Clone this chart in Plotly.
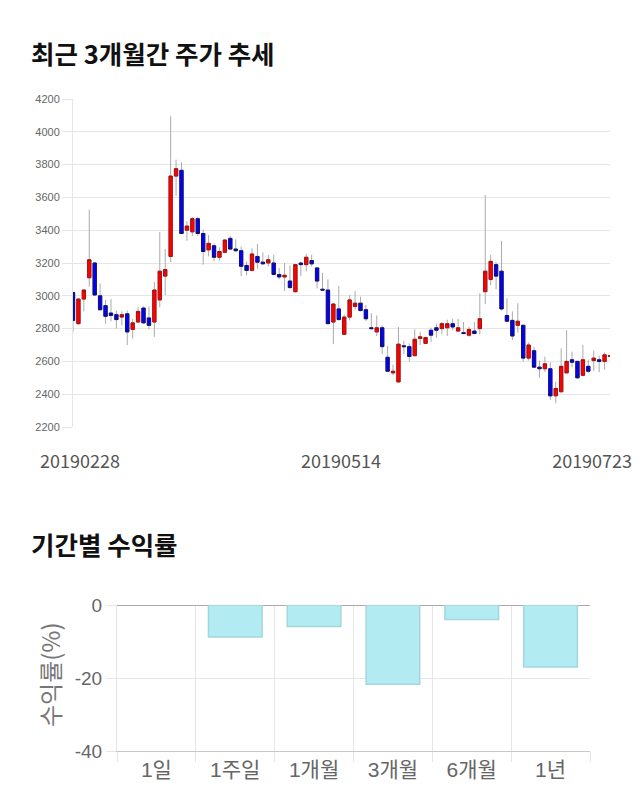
import pandas as pd
import plotly.graph_objects as go

# ---------------- data ----------------
holidays = ["2019-03-01", "2019-05-01", "2019-05-06", "2019-06-06"]
dates = [d.strftime("%Y%m%d") for d in pd.bdate_range("2019-02-28", "2019-07-23")
         if d.strftime("%Y-%m-%d") not in holidays]
tick_dates = ["20190228", "20190514", "20190723"]

open_ = [3020, 2830, 2980, 3110, 3200, 3000, 2940, 2895, 2885, 2870,
         2890, 2795, 2840, 2925, 2865, 2840, 2975, 3120, 3240, 3730,
         3765, 3400, 3390, 3470, 3380, 3280, 3305, 3235, 3265, 3350,
         3285, 3275, 3185, 3155, 3240, 3205, 3200, 3200, 3130, 3115,
         3090, 3025, 3200, 3190, 3215, 3170, 3040, 3035, 2840, 2920,
         2765, 2870, 2935, 2955, 2915, 2805, 2780, 2805, 2625, 2530,
         2475, 2695, 2690, 2635, 2740, 2710, 2790, 2805, 2800, 2805,
         2830, 2785, 2775, 2760, 2785, 2800, 3025, 3100, 3190, 3150,
         2880, 2850, 2820, 2820, 2620, 2665, 2565, 2555, 2555, 2390,
         2415, 2530, 2610, 2600, 2515, 2570, 2605, 2610, 2600, 2630]
close = [2850, 2980, 3035, 3220, 3005, 2915, 2875, 2880, 2855, 2885,
         2780, 2835, 2905, 2835, 2820, 3035, 3150, 3160, 3730, 3775,
         3380, 3425, 3470, 3380, 3270, 3320, 3235, 3270, 3340, 3285,
         3275, 3180, 3155, 3255, 3205, 3195, 3220, 3130, 3115, 3125,
         3050, 3190, 3190, 3235, 3195, 3090, 3035, 2830, 2950, 2855,
         2870, 2975, 2955, 2910, 2860, 2800, 2805, 2690, 2540, 2540,
         2705, 2690, 2630, 2735, 2750, 2745, 2760, 2790, 2830, 2830,
         2810, 2805, 2770, 2795, 2770, 2860, 3150, 3210, 3120, 2920,
         2845, 2755, 2845, 2620, 2700, 2565, 2555, 2585, 2390, 2435,
         2570, 2600, 2595, 2500, 2610, 2540, 2620, 2600, 2640, 2635]
high = [3025, 2985, 3040, 3525, 3205, 3075, 2975, 2980, 2910, 2905,
        2910, 2860, 2930, 2935, 2935, 3085, 3390, 3285, 4095, 3830,
        3815, 3455, 3480, 3480, 3405, 3370, 3320, 3295, 3345, 3365,
        3345, 3300, 3210, 3290, 3315, 3265, 3250, 3250, 3170, 3200,
        3185, 3195, 3205, 3255, 3250, 3175, 3140, 3100, 2955, 3060,
        2885, 3005, 3030, 2995, 2945, 2895, 2880, 2820, 2695, 2580,
        2810, 2725, 2710, 2795, 2780, 2750, 2805, 2830, 2840, 2855,
        2860, 2860, 2840, 2810, 2840, 3015, 3615, 3250, 3205, 3335,
        2985, 2905, 2955, 2825, 2715, 2690, 2605, 2630, 2595, 2475,
        2680, 2790, 2660, 2605, 2700, 2610, 2665, 2635, 2655, 2640]
low = [2780, 2825, 2905, 3055, 3000, 2910, 2830, 2845, 2800, 2820,
       2700, 2740, 2835, 2830, 2795, 2750, 2930, 3005, 3205, 3610,
       3380, 3335, 3365, 3365, 3190, 3240, 3210, 3215, 3260, 3280,
       3265, 3120, 3125, 3150, 3165, 3190, 3180, 3125, 3100, 3030,
       3045, 3020, 3120, 3150, 3180, 3045, 3030, 2830, 2705, 2850,
       2760, 2850, 2915, 2905, 2845, 2795, 2755, 2645, 2535, 2515,
       2470, 2645, 2600, 2630, 2700, 2705, 2720, 2745, 2765, 2755,
       2790, 2780, 2765, 2750, 2765, 2765, 2950, 3065, 3040, 2910,
       2840, 2730, 2775, 2600, 2605, 2560, 2500, 2535, 2365, 2345,
       2410, 2530, 2565, 2495, 2510, 2530, 2540, 2535, 2550, 2625]

periods = ["1일", "1주일", "1개월", "3개월", "6개월", "1년"]
returns = [0.0, -8.8, -5.9, -21.7, -4.0, -17.0]
return_ticks = [-40, -20, 0]

# ---------------- figure ----------------
W, H = 640, 810
idx = list(range(len(dates)))
body_hi = [max(o, c) for o, c in zip(open_, close)]
body_lo = [min(o, c) for o, c in zip(open_, close)]

fig = go.Figure()

# wicks (gray)
fig.add_trace(go.Candlestick(
    x=idx, open=open_, high=high, low=low, close=close,
    increasing=dict(line=dict(color="#aaaaaa", width=1), fillcolor="#aaaaaa"),
    decreasing=dict(line=dict(color="#aaaaaa", width=1), fillcolor="#aaaaaa"),
    whiskerwidth=0, showlegend=False, hoverinfo="skip",
    xaxis="x", yaxis="y"))
# bodies
fig.add_trace(go.Candlestick(
    x=idx, open=open_, high=body_hi, low=body_lo, close=close,
    increasing=dict(line=dict(color="#a81010", width=1), fillcolor="#ff0000"),
    decreasing=dict(line=dict(color="#101070", width=1), fillcolor="#0000ff"),
    whiskerwidth=0, showlegend=False,
    xaxis="x", yaxis="y"))

fig.add_trace(go.Bar(
    x=periods, y=returns, width=0.68,
    marker=dict(color="#b2ebf2",
                line=dict(color="#a3d6dd", width=[0 if v == 0 else 1.5 for v in returns])),
    showlegend=False, xaxis="x2", yaxis="y2"))

# tick label positions (nudged inside the canvas like the reference)
nudge = [1.3, -0.6, -3.3]
tick_pos = [dates.index(t) + n for t, n in zip(tick_dates, nudge)]

def px_x(p):
    return p / W

def px_y(p):
    return 1 - p / H

grid = "#e6e6e6"
fig.update_layout(
    template="none",
    width=W, height=H,
    margin=dict(l=0, r=0, t=0, b=0, pad=0, autoexpand=False),
    paper_bgcolor="white", plot_bgcolor="white",
    font=dict(family="Noto Sans CJK KR", color="#555"),
    boxgap=0.12,
    xaxis=dict(domain=[px_x(73), px_x(610)], range=[0, len(dates) - 1],
               automargin=False,
               rangeslider=dict(visible=False), showgrid=False, zeroline=False,
               showline=False,
               tickmode="array", tickvals=tick_pos, ticktext=tick_dates,
               ticks="outside", ticklen=18, tickcolor="rgba(0,0,0,0)",
               tickfont=dict(size=18, color="#555", family="Noto Sans CJK KR")),
    yaxis=dict(domain=[px_y(427), px_y(99)], range=[2200, 4200], dtick=200,
               automargin=False,
               showgrid=True, gridcolor=grid, gridwidth=1, zeroline=False,
               showline=True, linecolor=grid, linewidth=1,
               ticks="outside", ticklen=10, tickcolor=grid, tickwidth=1,
               tickfont=dict(size=11, color="#666", family="Liberation Sans")),
    xaxis2=dict(domain=[px_x(117), px_x(590)], type="category",
                automargin=False,
                tickson="boundaries", showgrid=True, gridcolor=grid, gridwidth=1,
                ticks="outside", ticklen=10, tickcolor=grid, tickwidth=1,
                showline=True, linecolor="#c8c8c8", linewidth=1, zeroline=False,
                tickfont=dict(size=21, color="#666", family="Liberation Sans, Noto Sans CJK KR"),
                anchor="y2"),
    yaxis2=dict(domain=[px_y(751), px_y(605)], range=[-40, 0],
                automargin=False,
                tickmode="array", tickvals=return_ticks,
                ticktext=[str(v) for v in return_ticks],
                showgrid=True, gridcolor=grid, gridwidth=1,
                zeroline=True, zerolinecolor="#aaaaaa", zerolinewidth=1,
                showline=True, linecolor=grid, linewidth=1,
                ticks="outside", ticklen=10, tickcolor=grid, tickwidth=1,
                tickfont=dict(size=19, color="#666", family="Liberation Sans"),
                anchor="x2"),
)

fig.add_annotation(text="<b>최근 3개월간 주가 추세</b>", xref="paper", yref="paper",
                   x=px_x(29), y=px_y(52), xanchor="left", yanchor="middle",
                   showarrow=False, font=dict(size=25.5, color="#111", family="Noto Sans CJK KR"))
fig.add_annotation(text="<b>기간별 수익률</b>", xref="paper", yref="paper",
                   x=px_x(29), y=px_y(543), xanchor="left", yanchor="middle",
                   showarrow=False, font=dict(size=25.5, color="#111", family="Noto Sans CJK KR"))
fig.add_annotation(text="수익률(%)", xref="paper", yref="paper",
                   x=px_x(49), y=px_y(675), xanchor="center", yanchor="middle",
                   textangle=-90, showarrow=False,
                   font=dict(size=24, color="#777", family="Noto Sans CJK KR"))

fig.write_html("out.html")
